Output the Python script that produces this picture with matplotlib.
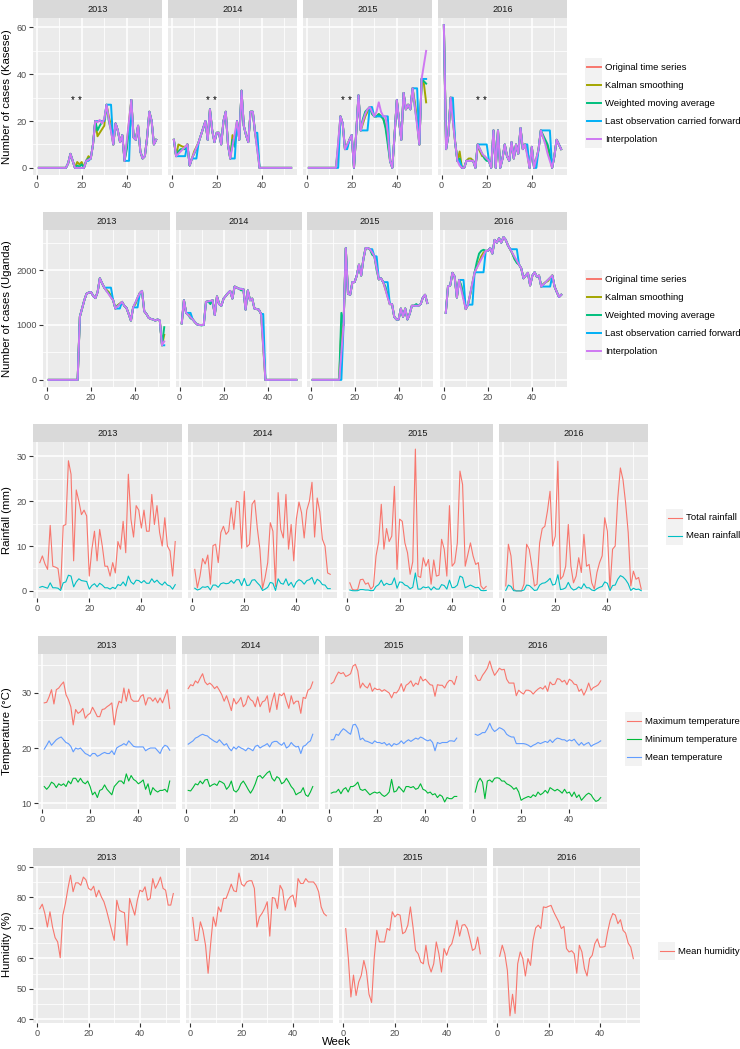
import numpy as np
import matplotlib.pyplot as plt
from matplotlib.patches import Rectangle

plt.rcParams['font.family'] = ['Liberation Sans', 'DejaVu Sans']

nan = float('nan')
weeks = np.arange(1, 54)
years = ['2013', '2014', '2015', '2016']

# ---- malaria cases, Kasese: observed values (nan = missing) and the imputed values at the gaps
kas13_obs = [0, 0, 0, 0, 0, 0, 0, 0, 0, 0, 0, 0, 0, 2, 6, 3, 0, nan, nan, nan, 0, 3, nan, 4, 10, 20,
             nan, nan, nan, nan, 27, nan, nan, 10, 19, 16, 11, 14, 3, nan, nan, 29, 13, 12, 18, 7, 4, 5,
             13, 24, 20, 10, 12]
kas13_gaps = [18, 19, 20, 23, 27, 28, 29, 30, 32, 33, 40, 41]
kas13_kalman = [2.5, 1.5, 2.5, 5, 13.5, 15, 16.5, 18, 22, 18, 10, 20]
kas13_wma = [1, 0.5, 1.5, 4, 16, 18, 19.5, 20.5, 20, 16, 8, 18]
kas13_locf = [0, 0, 0, 3, 20, 20, 20, 20, 27, 27, 3, 3]
kas13_interp = [0, 0, 0, 3.5, 19.5, 20.5, 19, 21, 21, 15.5, 11.7, 20.3]

kas14_obs = [12, 5, nan, nan, nan, nan, 10, 1, 4, nan, nan, 11, 14, 17, 20, 12, 25, 16, 11, 15, 15, 10,
             20, 24, 10, 4, nan, nan, 20, 12, 33, 18, 14, 11, 24, 24, 15, nan, 0, 0, 0, 0, 0, 0, 0, 0,
             0, 0, 0, 0, 0, 0, 0]
kas14_gaps = [3, 4, 5, 6, 10, 11, 27, 28, 38]
kas14_kalman = [10, 9.5, 9, 9, 7, 9, 14, 11, 10]
kas14_wma = [7, 8, 8, 8, 6, 8, 12, 9, 8]
kas14_locf = [5, 5, 5, 5, 4, 4, 4, 4, 15]
kas14_interp = [6, 7, 8, 9, 6.3, 8.7, 9.3, 14.7, 7.5]

kas15_obs = [0, 0, 0, 0, 0, 0, 0, 0, 0, 0, 0, 0, 0, nan, 22, 19, 8, nan, 12, 14, 0, 15, 31, 16, nan,
             nan, nan, 26, nan, 22, nan, nan, nan, nan, nan, nan, 3, 0, 14, 29, 20, 12, 32, 25, 27, 25,
             34, nan, nan, 10, 38, nan, nan]
kas15_gaps = [14, 18, 25, 26, 27, 29, 31, 32, 33, 34, 35, 36, 48, 49, 52, 53]
kas15_kalman = [8, 10, 19, 22, 24, 24, 22, 23, 22, 21, 18, 12, 28, 20, 36, 28]
kas15_wma = [10, 9, 21, 24, 25, 23, 22, 23, 22, 21, 17, 10, 26, 19, 37, 36]
kas15_locf = [0, 8, 16, 16, 16, 26, 22, 22, 22, 22, 22, 22, 34, 34, 38, 38]
kas15_interp = [11, 10, 20, 23, 25, 24, 24, 28, 24, 22, 22, 15, 26, 18, 44, 50]

kas16_obs = [61, 8, 14, 30, nan, 11, 3, nan, 0, 0, 3, nan, nan, 3, 0, 10, nan, nan, nan, nan, 3, 0, 16,
             0, 16, 0, 4, 10, 5, 3, 11, 4, 10, 6, 17, 8, 10, nan, 0, 9, 0, nan, 8, 16, nan, nan, nan,
             nan, 0, 5, 12, 10, 8]
kas16_gaps = [5, 8, 12, 13, 17, 18, 19, 20, 38, 42, 45, 46, 47, 48]
kas16_kalman = [20, 7, 4, 4, 7, 5, 5, 4, 6, 3, 13, 11, 9, 5]
kas16_wma = [22, 4, 3, 3, 8, 6, 4, 3, 7, 4, 14, 12, 10, 6]
kas16_locf = [30, 3, 3, 3, 10, 10, 10, 10, 10, 0, 16, 16, 16, 16]
kas16_interp = [20, 1, 3, 3, 8, 6, 5, 4, 5, 4, 13, 10, 6, 3]

# ---- malaria cases, Uganda
uga13_obs = [0, 0, 0, 0, 0, 0, 0, 0, 0, 0, 0, 0, 0, 0, 1150, 1300, 1450, 1570, 1590, 1600, 1530, 1490,
             1600, 1850, 1760, 1680, nan, nan, nan, 1450, 1300, nan, nan, 1420, 1350, 1310, 1200, 1080,
             1320, nan, nan, 1580, 1620, 1250, 1200, 1130, 1110, 1100, 1080, 1100, 1080, 630, nan]
uga13_gaps = [27, 28, 29, 32, 33, 40, 41, 53]
uga13_kalman = [1640, 1600, 1530, 1360, 1390, 1380, 1480, 820]
uga13_wma = [1620, 1580, 1510, 1350, 1380, 1400, 1500, 960]
uga13_locf = [1680, 1680, 1680, 1300, 1300, 1320, 1320, 630]
uga13_interp = [1620, 1560, 1500, 1340, 1380, 1410, 1500, 700]

uga14_obs = [1030, 1450, 1220, nan, nan, 1100, 1050, 1010, 1000, nan, nan, 1420, 1430, nan, 1450, 1180,
             1520, 1380, 1350, 1480, 1530, 1580, 1620, 1480, 1700, 1680, 1660, nan, 1650, 1280, 1630,
             1450, 1480, 1300, 1290, 1280, 1200, nan, 0, 0, 0, 0, 0, 0, 0, 0, 0, 0, 0, 0, 0, 0, 0]
uga14_gaps = [4, 5, 10, 11, 14, 28, 38]
uga14_kalman = [1200, 1150, 1000, 1000, 1420, 1650, 600]
uga14_wma = [1180, 1120, 990, 1000, 1380, 1630, 650]
uga14_locf = [1220, 1220, 1000, 1000, 1430, 1660, 1200]
uga14_interp = [1180, 1140, 1000, 1000, 1440, 1655, 600]

uga15_obs = [0, 0, 0, 0, 0, 0, 0, 0, 0, 0, 0, 0, 0, nan, 1000, 2400, 1570, 1550, 1780, 1780, 1900, 2100,
             1900, 2200, 2400, 2400, 2380, nan, 2250, nan, 1830, 1850, 1780, nan, nan, 1380, 1380, 1150,
             1100, 1100, 1300, 1150, 1300, 1100, 1200, 1350, 1350, nan, 1350, 1380, 1500, 1550, 1400]
uga15_gaps = [14, 28, 30, 34, 35, 48]
uga15_kalman = [950, 2300, 2050, 1650, 1520, 1370]
uga15_wma = [1220, 2280, 2000, 1700, 1550, 1380]
uga15_locf = [0, 2380, 2250, 1780, 1780, 1350]
uga15_interp = [500, 2320, 2040, 1650, 1500, 1350]

uga16_obs = [1220, 1700, 1720, 1950, 1880, 1500, 1820, nan, nan, 1290, 1370, nan, nan, 1960, nan, nan,
             nan, nan, 2350, 2350, 2400, 2300, 2550, 2500, 2580, 2500, 2600, 2550, 2450, 2380, nan, nan,
             nan, 2100, 2030, 1850, 1900, 1950, 1720, 1900, 1960, 1880, 1900, 1700, nan, nan, nan, nan,
             1900, 1700, 1600, 1510, 1550]
uga16_gaps = [8, 9, 12, 13, 15, 16, 17, 18, 31, 32, 33, 45, 46, 47, 48]
uga16_kalman = [1700, 1500, 1550, 1750, 2050, 2150, 2250, 2320, 2300, 2200, 2150, 1750, 1780, 1800, 1850]
uga16_wma = [1720, 1520, 1560, 1760, 2150, 2300, 2350, 2370, 2300, 2200, 2130, 1740, 1780, 1820, 1860]
uga16_locf = [1820, 1820, 1370, 1370, 1960, 1960, 1960, 1960, 2380, 2380, 2380, 1700, 1700, 1700, 1700]
uga16_interp = [1640, 1460, 1570, 1770, 2040, 2120, 2200, 2270, 2310, 2240, 2170, 1740, 1780, 1820, 1860]

# ---- rainfall (mm)
rain_total_2013 = [6.3, 7.8, 6, 4.8, 14.6, 5.5, 5.3, 5, 0.5, 14.5, 14.8, 29, 26, 6.7, 22.5, 20, 17, 18,
                   16.7, 3.3, 9.3, 13.3, 6.7, 13.7, 10, 5.5, 5.5, 3.3, 6.3, 4, 11, 9.3, 15.5, 8.5, 26,
                   16, 12, 19, 18, 14, 18, 13.3, 13.3, 21.5, 14.8, 19, 13, 10, 16.3, 10, 8.9, 3.3, 11]
rain_mean_2013 = [0.8, 1, 0.8, 0.6, 1.8, 0.7, 0.7, 0.6, 0.1, 1.8, 2, 3.5, 3.3, 0.9, 2, 2.7, 2.3, 2.2,
                  2.1, 0.4, 1.2, 1.6, 0.9, 1.7, 1.3, 0.7, 0.7, 0.4, 0.8, 0.5, 1.4, 1.2, 2, 1.1, 3.3, 2,
                  1.5, 2.4, 2.3, 1.8, 2.3, 1.7, 1.7, 2.7, 1.9, 2.4, 1.7, 1.3, 2, 1.3, 1.1, 0.4, 1.4]
rain_total_2014 = [4.8, 0.7, 3.3, 7.2, 6, 8, 1.5, 10.1, 10.4, 6.3, 13, 14.4, 12.6, 13.3, 18.5, 13.7, 20,
                   19.8, 9.5, 22.2, 9.8, 10.4, 19.3, 20.2, 14, 9.3, 0.5, 3, 6.3, 15.2, 13.3, 1, 21.9,
                   13.7, 11.8, 21.5, 9.3, 14.8, 6.7, 16, 19.8, 17.4, 11.8, 18, 20, 24.2, 12, 20.7, 17.6,
                   11.5, 10, 4, 3.7]
rain_mean_2014 = [0.6, 0.2, 0.4, 0.9, 0.8, 1, 0.2, 1.3, 1.3, 0.8, 1.6, 1.8, 1.6, 1.7, 2.3, 1.7, 2.5, 2.5,
                  1.2, 2.8, 1.2, 1.3, 2.4, 2.5, 1.8, 1.2, 0.1, 0.4, 0.8, 1.9, 1.7, 0.1, 2.7, 1.7, 1.5,
                  2.7, 1.2, 1.9, 0.8, 2, 2.5, 2.2, 1.5, 2.3, 2.5, 3, 1.5, 2.6, 2.2, 1.4, 1.3, 0.5, 0.5]
rain_total_2015 = [1.8, 0.3, 0.2, 0.3, 2.5, 2.6, 1.5, 1.8, 0.4, 1, 7.8, 11, 19.3, 9.3, 13.9, 11, 12.2,
                   23.3, 4.8, 16, 15.5, 10.7, 8.5, 3.7, 6.5, 31.6, 3.3, 3, 7.4, 5.5, 7, 1.5, 6.9, 3.3,
                   3.5, 11.5, 9.3, 3.3, 19, 5.5, 6.3, 10.7, 26.7, 23.7, 5.5, 8.1, 10.7, 7.8, 5.9, 6.3,
                   1.1, 0.4, 1]
rain_mean_2015 = [0.2, 0.05, 0.03, 0.05, 0.3, 0.3, 0.2, 0.2, 0.05, 0.1, 1, 1.4, 2.4, 1.2, 1.7, 1.4, 1.5,
                  2.9, 0.6, 2, 1.9, 1.3, 1.1, 0.5, 0.8, 4, 0.4, 0.4, 0.9, 0.7, 0.9, 0.2, 0.9, 0.4, 0.4,
                  1.4, 1.2, 0.4, 2.4, 0.7, 0.8, 1.3, 3.3, 3, 0.7, 1, 1.3, 1, 0.7, 0.8, 0.1, 0.05, 0.1]
rain_total_2016 = [1.1, 10.4, 7.8, 0.4, 0, 0, 0, 1.5, 10.4, 9.3, 5.5, 1.1, 1.5, 10.7, 13.9, 14.4, 17.8,
                   22.2, 10, 12.2, 28.9, 2.6, 3.3, 5.5, 14.8, 5.5, 1.8, 3.3, 7.4, 4.1, 12.6, 5.5, 5.9,
                   1.8, 0.4, 4.1, 6.3, 7.8, 16.3, 13.3, 0.4, 9.3, 10, 20.7, 27.4, 24.8, 19.6, 13, 1.1,
                   4.4, 2.6, 3, 0.4]
rain_mean_2016 = [0.1, 1.3, 1, 0.05, 0, 0, 0, 0.2, 1.3, 1.2, 0.7, 0.1, 0.2, 1.3, 1.7, 1.8, 2.2, 2.8, 1.3,
                  1.5, 3.6, 0.3, 0.4, 0.7, 1.9, 0.7, 0.2, 0.4, 0.9, 0.5, 1.6, 0.7, 0.7, 0.2, 0.05, 0.5,
                  0.8, 1, 2, 1.7, 0.05, 1.2, 1.3, 2.6, 3.4, 3.1, 2.5, 1.6, 0.1, 0.6, 0.3, 0.4, 0.05]

# ---- temperature (deg C)
tmax_2013 = [28.2, 28.3, 29.3, 30.6, 28, 30.6, 30.9, 31.5, 32, 29.7, 28.8, 27.5, 24.2, 27, 26.3, 26.6,
             27.2, 25.4, 26, 26.3, 27.4, 26.6, 25.7, 25.7, 27, 27.1, 27.5, 27.8, 28.2, 24.2, 27, 28.5,
             28.2, 30.9, 28.5, 30.7, 28.9, 28.5, 28.5, 28.5, 29.4, 29.7, 27.8, 29.1, 29.1, 28.5, 29.1,
             28.2, 29.1, 28.2, 29.4, 30.6, 27.2]
tmin_2013 = [13, 12.5, 13, 13.8, 13.5, 12.8, 13.5, 13.2, 13.5, 13, 14, 13.5, 14.5, 14.5, 13.8, 14.5,
             13.8, 13.5, 14, 13, 11.5, 12, 11, 12.3, 12.5, 13.3, 12.5, 12, 11.5, 13, 13.5, 14, 14, 13.5,
             15.3, 14, 15, 14.3, 14, 13.5, 13.8, 14.2, 12.5, 13.5, 11.5, 12.8, 12.3, 12, 12.3, 12.3,
             12.5, 12, 14]
tmean_2013 = [19.8, 20.5, 21.3, 20.5, 21, 21.5, 21.8, 22, 21.5, 21, 20.8, 20.3, 19.3, 20, 19.8, 20, 19.5,
              19, 18.8, 18.5, 19, 19, 18.5, 18.7, 19, 19.2, 19, 19, 19.5, 18.8, 20, 20.3, 20.5, 20.8,
              20.5, 21.3, 20.8, 20.3, 20.2, 20.2, 20.2, 20.2, 19.5, 19.8, 20, 20, 20, 19.5, 19, 20, 20.5,
              20.3, 19.6]
tmax_2014 = [30.8, 31.5, 31.3, 32.2, 31.8, 32.7, 33.5, 32, 31.5, 31.8, 31.4, 30.8, 31.2, 30.5, 29.7,
             28.5, 29.5, 28.2, 26.8, 29, 28, 28.5, 29.2, 27.5, 28, 29.5, 28.8, 28.5, 27.5, 29.3, 27.5,
             28.4, 28.6, 29.5, 26.5, 28.5, 30, 27, 29.8, 29.5, 30, 28.5, 27.2, 29.5, 28, 28.5, 28.5,
             26.3, 29.2, 29, 30.5, 30.8, 32]
tmin_2014 = [12.3, 12.2, 12.8, 13.5, 13.3, 14, 13.5, 14.2, 14.3, 13, 13.3, 13.5, 13.2, 14, 13.8, 13.5,
             12.5, 13, 14, 12.3, 12, 12.5, 13.5, 14, 13.3, 12.5, 11.8, 12.5, 13.5, 14.8, 15, 14.5, 15,
             15.5, 15.8, 14.5, 14, 14.8, 14.5, 13.5, 13.8, 14.5, 13.8, 13, 12.5, 11.5, 11.8, 12, 12.8,
             11.5, 11.2, 12, 13]
tmean_2014 = [20.7, 21, 21.3, 21.8, 22, 22.3, 22.5, 22.3, 22.2, 21.8, 21.5, 21.2, 21, 21.5, 21, 20.5,
              20.8, 20, 19.5, 20.2, 19.8, 20.3, 20, 19.8, 19.5, 20, 19.8, 19.5, 20.3, 20.5, 20, 20.3,
              20.5, 20.8, 20.2, 21, 21.2, 21.2, 20.8, 20.5, 21, 20, 20.3, 21, 20.5, 20.2, 20.3, 19, 20.3,
              20.5, 21, 21.3, 22.5]
tmax_2015 = [31.7, 32, 33, 33.8, 33.5, 33.7, 33, 33.2, 33.5, 34.9, 35.2, 34, 30.9, 31.8, 31.2, 30.9,
             31.8, 30.3, 30.9, 30.6, 30.7, 30.3, 30.6, 30.3, 30, 29.1, 30.1, 30, 30.6, 31.7, 30.3, 31.4,
             31.7, 32.2, 31.2, 31.8, 31.5, 33, 32.2, 32.5, 32, 31.5, 31.4, 29.4, 31.5, 31.4, 31.4, 30.9,
             31.8, 32.3, 32.2, 31.5, 33]
tmin_2015 = [11.8, 12, 12, 12.5, 11.7, 12.5, 12.8, 12, 13, 13, 13.3, 13.8, 12.5, 12.3, 12.5, 12, 11.5,
             11.8, 12, 11.8, 12, 11.5, 11.2, 11.5, 12, 14.3, 12, 12.2, 13, 12.5, 12, 13, 13, 12.8, 13,
             12.5, 12.7, 13.5, 12.5, 12.3, 11.8, 12, 11.5, 11.7, 11, 11.5, 11.2, 10.2, 11, 10.8, 10.8,
             11.2, 11.2]
tmean_2015 = [21.5, 21.5, 22.5, 22.3, 23, 23.5, 23.2, 22.8, 22.5, 24.2, 24.3, 23.5, 21.5, 21.8, 21.3,
              21.2, 21, 20.8, 21.3, 21, 21, 20.8, 21, 20.5, 20.8, 20.3, 20.8, 20.6, 20.8, 21.3, 20.8,
              21.2, 21.5, 21.2, 21.5, 21.8, 21.6, 22, 21.8, 21.5, 21.3, 21.5, 21, 19.5, 21, 20.8, 21, 21,
              21, 21.3, 21.3, 21.2, 21.8]
tmax_2016 = [33.2, 32.3, 32.3, 33.2, 33.8, 34.5, 35.8, 34.3, 33.2, 33.8, 34.5, 34.2, 34.3, 32.5, 31.8,
             31.8, 31.8, 29.5, 30.5, 30.1, 29.8, 30.5, 30.5, 30.3, 29.8, 30.3, 30.7, 31, 30.7, 31.3,
             30.3, 32, 31.5, 31.6, 32.6, 32.5, 32, 32.3, 31.5, 32.5, 32.2, 31.6, 31.5, 30.3, 30.7, 29.6,
             30.5, 31.8, 30.5, 31, 31.2, 31.5, 32.2]
tmin_2016 = [12, 13.8, 14.5, 13.8, 10.8, 14, 14.2, 13.8, 14.5, 14.6, 14.5, 14, 14, 13.5, 13.3, 13, 12.5,
             12.8, 12, 10.5, 10.8, 11, 11.2, 11, 11.5, 11.2, 12, 11.5, 11.8, 12.3, 11.8, 12.8, 12.5,
             12.2, 12.5, 12.2, 11.8, 12.5, 11.8, 12, 11.2, 12, 11, 11.5, 10.5, 11, 11.5, 11.8, 11.5,
             10.8, 10.3, 10.5, 11]
tmean_2016 = [22.5, 22.3, 22.5, 22.8, 22.8, 23.5, 24.5, 23.5, 23, 23.3, 23.7, 23.5, 23.2, 22.5, 22.2, 22,
              22, 20.8, 20.8, 20.8, 20.8, 20.7, 20.5, 20.2, 20.5, 20.7, 21, 20.8, 21, 21.2, 21, 21.5, 21,
              21.5, 21.8, 21.7, 21.5, 21.5, 21.2, 21.5, 21.3, 21.6, 21, 20.5, 21, 20.5, 20.8, 21, 20.3,
              20.6, 20.8, 21, 21.3]

# ---- humidity (%)
hum_2013 = [76.3, 77.8, 74.8, 70.3, 75.3, 70.3, 66.8, 65.4, 60.2, 74.2, 78, 83, 87.3, 81.9, 84.8, 84.8,
            84, 86.7, 85.8, 83, 82.4, 83.7, 80.2, 82.4, 80.2, 78.6, 75.8, 72.5, 69.2, 65.9, 79.1, 75.8,
            75.3, 75, 64.3, 79.7, 76.9, 74.2, 79.1, 82.4, 81.9, 83.5, 79.1, 79.7, 86.2, 83, 84.6, 86.7,
            83, 82.4, 77.5, 77.5, 81.3]
hum_2014 = [73.4, 65.9, 65.9, 72, 69.2, 64.3, 55.1, 64.8, 73.6, 70.5, 76.9, 75.3, 79.7, 79.7, 81.9, 84.4,
            82.2, 81.9, 88, 84.4, 83.7, 85.1, 85.5, 85.5, 83, 70.3, 73.6, 74.8, 76.4, 78.6, 67.3, 80,
            79.7, 76.4, 84, 82.4, 75.8, 79.1, 80.2, 80.8, 76.9, 86.2, 84.6, 84.6, 86.2, 85.1, 85.1,
            85.1, 84, 81.9, 76.9, 74.8, 74]
hum_2015 = [69.8, 60, 47.3, 54.5, 47.8, 52.2, 54.4, 59.3, 55.8, 48.2, 45.5, 60, 69.2, 65.4, 65.4, 65.4,
            69.8, 69.2, 75.3, 73.6, 74.5, 74.2, 68.1, 68.7, 70.9, 76.9, 70.3, 62.6, 61.5, 58.8, 58.2,
            64.3, 58.2, 55.5, 58.2, 65.4, 61.5, 55.5, 63.2, 61, 63.7, 64.8, 68.1, 72.5, 67.3, 70.9,
            71.1, 69.8, 66.4, 62.6, 63.2, 67, 61.5]
hum_2016 = [60.7, 64.3, 61.5, 56, 41.1, 48.2, 41.9, 58.2, 62.1, 59.9, 54.2, 59.9, 57.7, 65.9, 70, 70.9,
            69.8, 76.9, 76.7, 77.1, 77.4, 75.3, 73.6, 72, 69.8, 70.5, 63.2, 62.1, 62.5, 61.5, 55.1,
            64.3, 62.1, 56.6, 54.2, 59.9, 61, 64.8, 66.4, 63.7, 63.7, 63.9, 68.7, 72.5, 74.7, 74.2,
            71.4, 72.7, 69.2, 68.3, 65, 63.7, 59.9]

imp_labels = ['Original time series', 'Kalman smoothing', 'Weighted moving average',
              'Last observation carried forward', 'Interpolation']
imp_colors = ['#F8766D', '#A3A500', '#00BF7D', '#00B0F6', '#CF78F2']


def with_gaps(obs, gaps, vals):
    s = np.array(obs, dtype=float)
    s[np.array(gaps) - 1] = vals
    return s


def imputed(obs, gaps, kalman, wma, locf, interp):
    return [np.array(obs, dtype=float)] + [with_gaps(obs, gaps, v) for v in (kalman, wma, locf, interp)]


kasese = [imputed(kas13_obs, kas13_gaps, kas13_kalman, kas13_wma, kas13_locf, kas13_interp),
          imputed(kas14_obs, kas14_gaps, kas14_kalman, kas14_wma, kas14_locf, kas14_interp),
          imputed(kas15_obs, kas15_gaps, kas15_kalman, kas15_wma, kas15_locf, kas15_interp),
          imputed(kas16_obs, kas16_gaps, kas16_kalman, kas16_wma, kas16_locf, kas16_interp)]
uganda = [imputed(uga13_obs, uga13_gaps, uga13_kalman, uga13_wma, uga13_locf, uga13_interp),
          imputed(uga14_obs, uga14_gaps, uga14_kalman, uga14_wma, uga14_locf, uga14_interp),
          imputed(uga15_obs, uga15_gaps, uga15_kalman, uga15_wma, uga15_locf, uga15_interp),
          imputed(uga16_obs, uga16_gaps, uga16_kalman, uga16_wma, uga16_locf, uga16_interp)]
rain = [[rain_total_2013, rain_mean_2013], [rain_total_2014, rain_mean_2014],
        [rain_total_2015, rain_mean_2015], [rain_total_2016, rain_mean_2016]]
temp = [[tmax_2013, tmin_2013, tmean_2013], [tmax_2014, tmin_2014, tmean_2014],
        [tmax_2015, tmin_2015, tmean_2015], [tmax_2016, tmin_2016, tmean_2016]]
hum = [[hum_2013], [hum_2014], [hum_2015], [hum_2016]]

W, H = 740, 1049
fig = plt.figure(figsize=(7.4, 10.49), dpi=100)
lay = fig.add_axes([0, 0, 1, 1], zorder=5)
lay.set_xlim(0, W)
lay.set_ylim(H, 0)
lay.axis('off')
lay.patch.set_alpha(0)


def draw_row(data, panels, top, bottom, ylabel, colors, lw, yticks, yminor,
             leg_x, leg_y, labels, stars=False):
    allv = np.concatenate([np.asarray(s, dtype=float) for yr in data for s in yr])
    lo, hi = np.nanmin(allv), np.nanmax(allv)
    pad = 0.05 * (hi - lo)
    for i, (x0, x1) in enumerate(panels):
        ax = fig.add_axes([x0 / W, 1 - bottom / H, (x1 - x0) / W, (bottom - top) / H])
        ax.set_facecolor('#EBEBEB')
        for sp in ax.spines.values():
            sp.set_visible(False)
        for series, col in zip(data[i], colors):
            ax.plot(weeks, series, color=col, lw=lw, solid_joinstyle='round')
        if stars:
            ax.text(16, 29, '*', ha='center', va='center', fontsize=7)
            ax.text(19, 29, '*', ha='center', va='center', fontsize=7)
        ax.set_xlim(-1.6, 55.6)
        ax.set_ylim(lo - pad, hi + pad)
        ax.set_xticks([0, 20, 40])
        ax.set_xticks([10, 30, 50], minor=True)
        ax.set_yticks(yticks)
        ax.set_yticks(yminor, minor=True)
        ax.grid(which='major', color='white', lw=1.1)
        ax.grid(which='minor', color='white', lw=0.55)
        ax.set_axisbelow(True)
        ax.tick_params(which='minor', length=0)
        ax.tick_params(which='major', length=2.75, width=0.8, color='#333333',
                       labelsize=6.6, labelcolor='#4D4D4D', pad=1.8)
        if i > 0:
            ax.tick_params(axis='y', which='both', left=False, labelleft=False)
        lay.add_patch(Rectangle((x0, top - 18), x1 - x0, 18, color='#D9D9D9', lw=0))
        lay.text((x0 + x1) / 2, top - 9, years[i], ha='center', va='center',
                 fontsize=6.6, color='#1A1A1A')
    lay.text(7, (top + bottom) / 2, ylabel, rotation=90, ha='center', va='center', fontsize=8.2)
    for j, (lab, col) in enumerate(zip(labels, colors)):
        yc = leg_y + 18 * j
        lay.add_patch(Rectangle((leg_x, yc - 9), 17, 18, color='#F2F2F2', lw=0))
        lay.plot([leg_x + 1.5, leg_x + 15.5], [yc, yc], color=col, lw=lw)
        lay.text(leg_x + 20, yc, lab, ha='left', va='center', fontsize=6.8)


draw_row(kasese, [(33, 162), (168, 297), (303, 432), (438, 567)], 18, 175,
         'Number of cases (Kasese)', imp_colors, 1.4, [0, 20, 40, 60], [10, 30, 50],
         585, 67, imp_labels, stars=True)
draw_row(uganda, [(43, 170), (176, 302), (307, 433), (440, 567)], 230, 387,
         'Number of cases (Uganda)', imp_colors, 1.4, [0, 1000, 2000], [500, 1500, 2500],
         585, 279, imp_labels)
draw_row(rain, [(33, 182), (188, 337), (343, 493), (499, 648)], 442, 598,
         'Rainfall (mm)', ['#F8766D', '#00BFC4'], 0.8, [0, 10, 20, 30], [5, 15, 25],
         666, 518, ['Total rainfall', 'Mean rainfall'])
draw_row(temp, [(38, 176), (182, 319), (325, 463), (469, 607)], 654, 809,
         'Temperature (°C)', ['#F8766D', '#00BA38', '#619CFF'], 0.8, [10, 20, 30], [15, 25, 35],
         625, 721, ['Maximum temperature', 'Minimum temperature', 'Mean temperature'])
draw_row(hum, [(33, 180), (186, 333), (339, 487), (493, 640)], 866, 1023,
         'Humidity (%)', ['#F8766D'], 0.8, [40, 50, 60, 70, 80, 90], [45, 55, 65, 75, 85],
         658, 951, ['Mean humidity'])

lay.text(336, 1042, 'Week', ha='center', va='center', fontsize=8.2)

fig.savefig('out.png', dpi=100)
